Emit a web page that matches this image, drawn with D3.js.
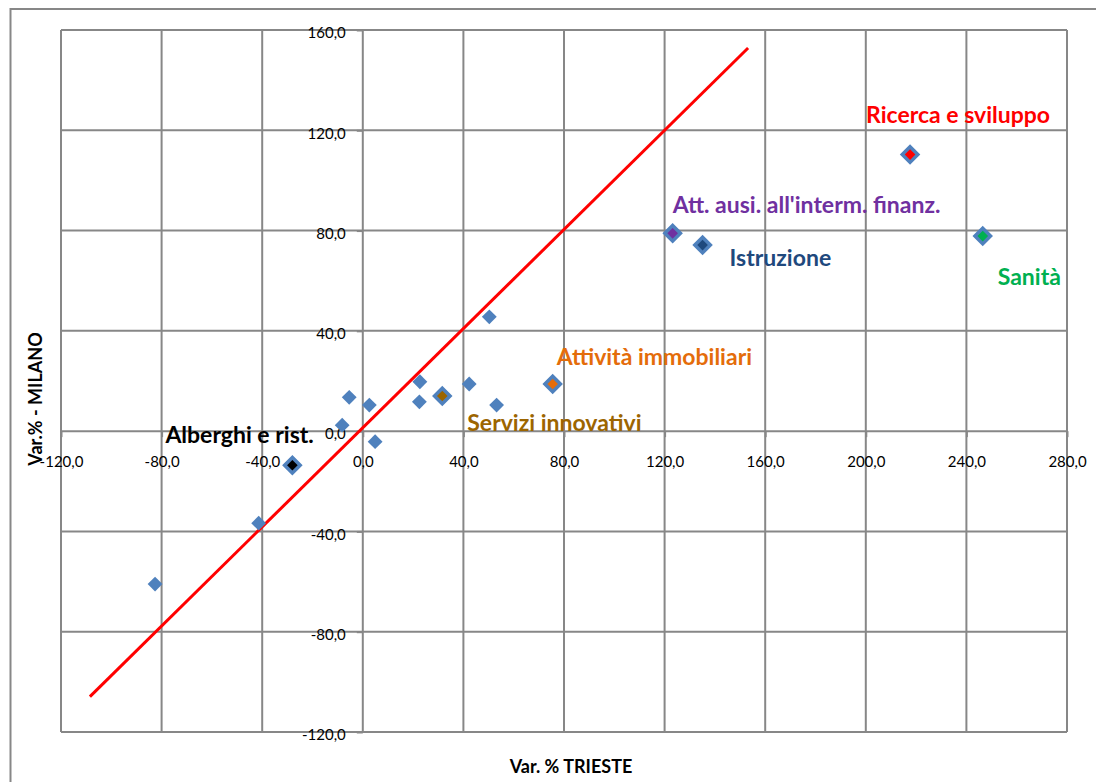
<!DOCTYPE html>
<html>
<head>
<meta charset="utf-8">
<script src="https://cdn.jsdelivr.net/npm/d3@7"></script>
<style>
  body { margin: 0; background: #fff; }
  svg text { font-family: Lato, "Open Sans", sans-serif; }
</style>
</head>
<body>
<div id="chart"></div>
<script>
// data
let sectors = ["Alberghi e rist.", "", "", "", "", "", "", "", "", "Servizi innovativi", "", "", "",
  "Attività immobiliari", "Att. ausi. all'interm. finanz.", "Istruzione", "Ricerca e sviluppo", "Sanità"];
let varTrieste = [-28.0, -41.4, -82.6, -5.4, 2.6, -8.2, 4.9, 22.7, 22.5, 31.6, 42.3, 53.2, 50.3,
  75.5, 123.2, 135.1, 217.6, 246.5];
let varMilano = [-13.6, -36.7, -61.0, 13.5, 10.4, 2.4, -4.2, 19.7, 11.7, 14.0, 18.8, 10.4, 45.6,
  18.8, 78.9, 74.2, 110.3, 77.8];

// red reference line (two points)
let lineX = [-108.5, 153.2];
let lineY = [-105.9, 152.8];

let xTicks = [-120, -80, -40, 0, 40, 80, 120, 160, 200, 240, 280];
let yTicks = [-120, -80, -40, 0, 40, 80, 120, 160];

// colours and label placement of the highlighted sectors
let highlight = {
  "Alberghi e rist.": {color: "#000000", dx: -127, dy: -22},
  "Servizi innovativi": {color: "#9C6500", dx: 25, dy: 35},
  "Attività immobiliari": {color: "#E46C0A", dx: 4, dy: -19},
  "Att. ausi. all'interm. finanz.": {color: "#7030A0", dx: 0, dy: -20},
  "Istruzione": {color: "#1F497D", dx: 27, dy: 21},
  "Ricerca e sviluppo": {color: "#FF0000", dx: -44, dy: -32},
  "Sanità": {color: "#00B050", dx: 15, dy: 49}
};

let W = 1096, H = 782;
let blue = "#4F81BD", grid = "#878787";

let fmt = d3.formatLocale({decimal: ",", thousands: ".", grouping: [3], currency: ["", "€"], minus: "-"}).format(".1f");

let xScale = d3.scaleLinear().domain([-120, 280]).range([61, 1067]);
let yScale = d3.scaleLinear().domain([-120, 160]).range([732, 30]);

let svg = d3.select("#chart").append("svg")
    .attr("width", W)
    .attr("height", H);

// outer chart border
svg.append("rect")
    .attr("x", 10.5).attr("y", 9)
    .attr("width", W + 20).attr("height", H + 20)
    .attr("fill", "none")
    .attr("stroke", grid)
    .attr("stroke-width", 2);

// gridlines
svg.append("g").selectAll("line")
    .data(xTicks)
  .enter().append("line")
    .attr("x1", d => xScale(d)).attr("x2", d => xScale(d))
    .attr("y1", yScale.range()[0]).attr("y2", yScale.range()[1])
    .attr("stroke", grid).attr("stroke-width", 2);

svg.append("g").selectAll("line")
    .data(yTicks)
  .enter().append("line")
    .attr("y1", d => yScale(d)).attr("y2", d => yScale(d))
    .attr("x1", xScale.range()[0]).attr("x2", xScale.range()[1])
    .attr("stroke", grid).attr("stroke-width", 2);

// axes crossing at zero
let xAxis = svg.append("g")
    .attr("transform", `translate(0, ${yScale(0)})`)
    .call(d3.axisBottom(xScale).tickValues(xTicks).tickFormat(fmt).tickSize(6).tickPadding(19));

let yAxis = svg.append("g")
    .attr("transform", `translate(${xScale(0)}, 0)`)
    .call(d3.axisLeft(yScale).tickValues(yTicks).tickFormat(fmt).tickSize(6).tickPadding(11));

[xAxis, yAxis].forEach(a => {
  a.select(".domain").remove();
  a.selectAll(".tick line").attr("stroke", grid).attr("stroke-width", 2);
  a.selectAll(".tick text")
    .attr("fill", "#000")
    .style("font-size", "15px")
    .style("font-family", "Lato, sans-serif");
});
yAxis.selectAll(".tick text").attr("y", 3);

// bisector line
svg.append("path")
    .datum(d3.zip(lineX, lineY))
    .attr("fill", "none")
    .attr("stroke", "#FF0000")
    .attr("stroke-width", 3)
    .attr("d", d3.line().x(d => xScale(d[0])).y(d => yScale(d[1])));

let points = sectors.map((s, i) => ({name: s, x: varTrieste[i], y: varMilano[i]}));

// plain diamonds first, highlighted ones on top
let plain = points.filter(d => !highlight[d.name]);
let marked = points.filter(d => highlight[d.name]);

svg.append("g").selectAll("path")
    .data(plain)
  .enter().append("path")
    .attr("d", d3.symbol(d3.symbolSquare, 110))
    .attr("transform", d => `translate(${xScale(d.x)}, ${yScale(d.y)}) rotate(45)`)
    .attr("fill", blue);

svg.append("g").selectAll("path")
    .data(marked)
  .enter().append("path")
    .attr("d", d3.symbol(d3.symbolSquare, 121))
    .attr("transform", d => `translate(${xScale(d.x)}, ${yScale(d.y)}) rotate(45)`)
    .attr("fill", d => highlight[d.name].color)
    .attr("stroke", blue)
    .attr("stroke-width", 3.5);

// sector labels
svg.append("g").selectAll("text")
    .data(marked)
  .enter().append("text")
    .attr("x", d => xScale(d.x) + highlight[d.name].dx)
    .attr("y", d => yScale(d.y) + highlight[d.name].dy)
    .attr("fill", d => highlight[d.name].color)
    .style("font-size", "23px")
    .style("font-weight", "bold")
    .text(d => d.name);

// axis titles
svg.append("text")
    .attr("x", 571).attr("y", 773)
    .attr("text-anchor", "middle")
    .style("font-size", "18px")
    .style("font-weight", "bold")
    .text("Var. % TRIESTE");

svg.append("text")
    .attr("transform", "translate(42, 399) rotate(-90)")
    .attr("text-anchor", "middle")
    .style("font-size", "18px")
    .style("font-weight", "bold")
    .text("Var.% - MILANO");
</script>
</body>
</html>
